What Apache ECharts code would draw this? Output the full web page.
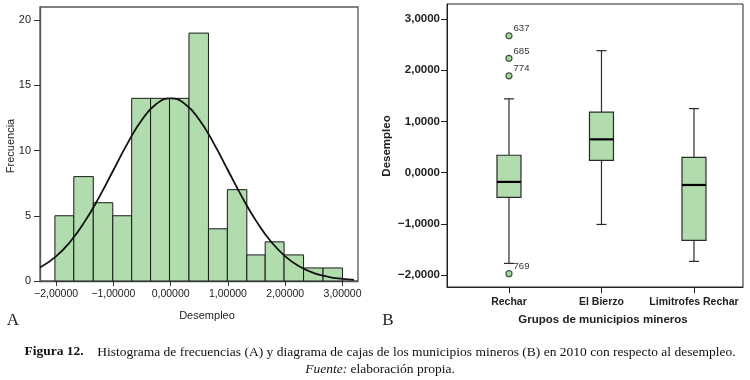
<!DOCTYPE html>
<html><head><meta charset="utf-8">
<script src="https://cdn.jsdelivr.net/npm/echarts@6/dist/echarts.min.js"></script>
<style>html,body{margin:0;padding:0;background:#fff}#c{width:750px;height:380px}</style>
</head><body><div id="c"></div>
<script>
// ---- Panel A: histogram ----
const binEdges = [-2.02,-1.69,-1.35,-1.01,-0.68,-0.35,-0.02,0.32,0.66,0.99,1.33,1.65,1.98,2.32,2.66,3.00];
const binCounts = [5,8,6,5,14,14,14,19,4,7,2,3,2,1,1];
const curveX = [-2.28,-2,-1.75,-1.5,-1.25,-1,-0.75,-0.5,-0.25,0,0.25,0.5,0.75,1,1.25,1.5,1.75,2,2.25,2.5,2.75,3,3.2];
const curveY = [1.04,1.89,3.03,4.55,6.41,8.49,10.57,12.36,13.57,14.0,13.57,12.36,10.57,8.49,6.41,4.55,3.03,1.89,1.11,0.61,0.32,0.16,0.08];
const xTicksA = [-2,-1,0,1,2,3];
const yTicksA = [0,5,10,15,20];
// ---- Panel B: boxplot ----
const groups = ['Rechar','El Bierzo','Limitrofes Rechar'];
const whiskerLow = [-1.77,-1.01,-1.73];
const q1 = [-0.48,0.24,-1.32];
const median = [-0.18,0.65,-0.24];
const q3 = [0.34,1.18,0.30];
const whiskerHigh = [1.44,2.38,1.25];
const outlierGroup = [0,0,0,0];
const outlierValue = [2.67,2.23,1.89,-1.97];
const outlierLabel = ['637','685','774','769'];
const yTicksB = [-2,-1,0,1,2,3];

const GREEN = '#b1dcae';
const NARROW = '"Liberation Sans Narrow","Arial Narrow","Liberation Sans",Arial,sans-serif';
const SERIF = '"Liberation Serif","DejaVu Serif",serif';

const histData = binCounts.map((c,i)=>[binEdges[i],binEdges[i+1],c]);
const curveData = curveX.map((x,i)=>[x,curveY[i]]);
const boxData = groups.map((g,i)=>[i+1,whiskerLow[i],q1[i],median[i],q3[i],whiskerHigh[i]]);
const outData = outlierValue.map((v,i)=>[outlierGroup[i]+1,v,outlierLabel[i]]);

function fmtA(v){return (v<0?'\u2212':'')+Math.abs(v).toFixed(5).replace('.',',');}
function fmtB(v){return (v<0?'\u2212':'')+Math.abs(v).toFixed(4).replace('.',',');}

const chart = echarts.init(document.getElementById('c'),null,{renderer:'canvas'});
chart.setOption({
  animation:false,
  backgroundColor:'#fff',
  grid:[
    {left:40,right:392,top:7,bottom:99,show:true,borderColor:'#555',borderWidth:1.3,backgroundColor:'transparent'},
    {left:447,right:7,top:4,bottom:93,show:true,borderColor:'#222',borderWidth:1,backgroundColor:'transparent'}
  ],
  xAxis:[
    {type:'value',gridIndex:0,min:-2.28,max:3.27,splitLine:{show:false},
     axisLine:{onZero:false,lineStyle:{color:'#555',width:1.3}},
     axisTick:{customValues:xTicksA,length:5,lineStyle:{color:'#333'}},
     axisLabel:{customValues:xTicksA,formatter:fmtA,margin:8,fontSize:10.5,color:'#222',fontFamily:NARROW}},
    {type:'value',gridIndex:1,min:0.33,max:3.53,splitLine:{show:false},
     axisLine:{onZero:false,lineStyle:{color:'#222'}},
     axisTick:{customValues:[1,2,3],length:6,lineStyle:{color:'#222'}},
     axisLabel:{customValues:[1,2,3],formatter:v=>groups[Math.round(v)-1],margin:10,fontSize:10.5,fontWeight:'bold',color:'#222',fontFamily:NARROW}}
  ],
  yAxis:[
    {type:'value',gridIndex:0,min:0,max:21,splitLine:{show:false},
     axisLine:{show:true,onZero:false,lineStyle:{color:'#555',width:1.3}},
     axisTick:{show:true,customValues:yTicksA,length:6,lineStyle:{color:'#333'}},
     axisLabel:{customValues:yTicksA,margin:9,fontSize:11,color:'#222',fontFamily:NARROW}},
    {type:'value',gridIndex:1,min:-2.23,max:3.29,splitLine:{show:false},
     axisLine:{show:true,onZero:false,lineStyle:{color:'#222'}},
     axisTick:{show:true,customValues:yTicksB,length:6,lineStyle:{color:'#222'}},
     axisLabel:{customValues:yTicksB,formatter:fmtB,margin:7,fontSize:11.5,fontWeight:'bold',color:'#222',fontFamily:NARROW}}
  ],
  series:[
    {type:'custom',xAxisIndex:0,yAxisIndex:0,data:histData,encode:{x:[0,1],y:2},
     renderItem:function(params,api){
       const p0=api.coord([api.value(0),0]);
       const p1=api.coord([api.value(1),api.value(2)]);
       return {type:'rect',shape:{x:p0[0],y:p1[1],width:p1[0]-p0[0],height:p0[1]-p1[1]},
               style:{fill:GREEN,stroke:'#1a1a1a',lineWidth:1}};
     }},
    {type:'line',xAxisIndex:0,yAxisIndex:0,data:curveData,smooth:true,showSymbol:false,symbol:'none',
     lineStyle:{color:'#111',width:1.8},z:5},
    {type:'custom',xAxisIndex:1,yAxisIndex:1,data:boxData,encode:{x:0,y:[1,2,3,4,5]},
     renderItem:function(params,api){
       const x=api.value(0);
       const pl=api.coord([x,api.value(1)]), pq1=api.coord([x,api.value(2)]), pm=api.coord([x,api.value(3)]),
             pq3=api.coord([x,api.value(4)]), ph=api.coord([x,api.value(5)]);
       const cx=pl[0], bw=24, cw=10;
       const ls={stroke:'#2a2a2a',lineWidth:1.2};
       return {type:'group',children:[
         {type:'line',shape:{x1:cx,y1:ph[1],x2:cx,y2:pq3[1]},style:ls},
         {type:'line',shape:{x1:cx,y1:pq1[1],x2:cx,y2:pl[1]},style:ls},
         {type:'line',shape:{x1:cx-cw/2,y1:ph[1],x2:cx+cw/2,y2:ph[1]},style:ls},
         {type:'line',shape:{x1:cx-cw/2,y1:pl[1],x2:cx+cw/2,y2:pl[1]},style:ls},
         {type:'rect',shape:{x:cx-bw/2,y:pq3[1],width:bw,height:pq1[1]-pq3[1]},style:{fill:GREEN,stroke:'#2a2a2a',lineWidth:1.2}},
         {type:'line',shape:{x1:cx-bw/2,y1:pm[1],x2:cx+bw/2,y2:pm[1]},style:{stroke:'#000',lineWidth:2.2}}
       ]};
     }},
    {type:'scatter',xAxisIndex:1,yAxisIndex:1,data:outData,symbol:'circle',symbolSize:6,
     itemStyle:{color:'#a9d4a4',borderColor:'#3d5a3d',borderWidth:1.2,opacity:1},
     label:{show:true,formatter:p=>p.value[2],position:'right',distance:1,offset:[0,-7],fontSize:9.5,color:'#333',fontFamily:NARROW},
     z:6}
  ],
  graphic:[
    {type:'text',x:11,y:146,rotation:Math.PI/2,style:{text:'Frecuencia',fontSize:11,fill:'#222',fontFamily:NARROW,align:'center',verticalAlign:'middle'}},
    {type:'text',x:207,y:316,style:{text:'Desempleo',fontSize:11,fill:'#222',fontFamily:NARROW,align:'center',verticalAlign:'middle'}},
    {type:'text',x:13,y:321,style:{text:'A',fontSize:17,fill:'#222',fontFamily:SERIF,align:'center',verticalAlign:'middle'}},
    {type:'text',x:387,y:146,rotation:Math.PI/2,style:{text:'Desempleo',fontSize:11.5,fontWeight:'bold',fill:'#222',fontFamily:NARROW,align:'center',verticalAlign:'middle'}},
    {type:'text',x:603,y:320,style:{text:'Grupos de municipios mineros',fontSize:11.5,fontWeight:'bold',fill:'#222',fontFamily:NARROW,align:'center',verticalAlign:'middle'}},
    {type:'text',x:388,y:321,style:{text:'B',fontSize:17,fill:'#222',fontFamily:SERIF,align:'center',verticalAlign:'middle'}},
    {type:'text',x:380,y:352,style:{
       text:'{b|Figura 12.}    Histograma de frecuencias (A) y diagrama de cajas de los municipios mineros (B) en 2010 con respecto al desempleo.',
       fontSize:13.5,fill:'#111',fontFamily:SERIF,align:'center',verticalAlign:'middle',
       rich:{b:{fontWeight:'bold',fontSize:13.5,fontFamily:SERIF,fill:'#111'}}}},
    {type:'text',x:380,y:369,style:{
       text:'{i|Fuente:} elaboración propia.',
       fontSize:13.5,fill:'#111',fontFamily:SERIF,align:'center',verticalAlign:'middle',
       rich:{i:{fontStyle:'italic',fontSize:13.5,fontFamily:SERIF,fill:'#111'}}}}
  ]
});
</script></body></html>
